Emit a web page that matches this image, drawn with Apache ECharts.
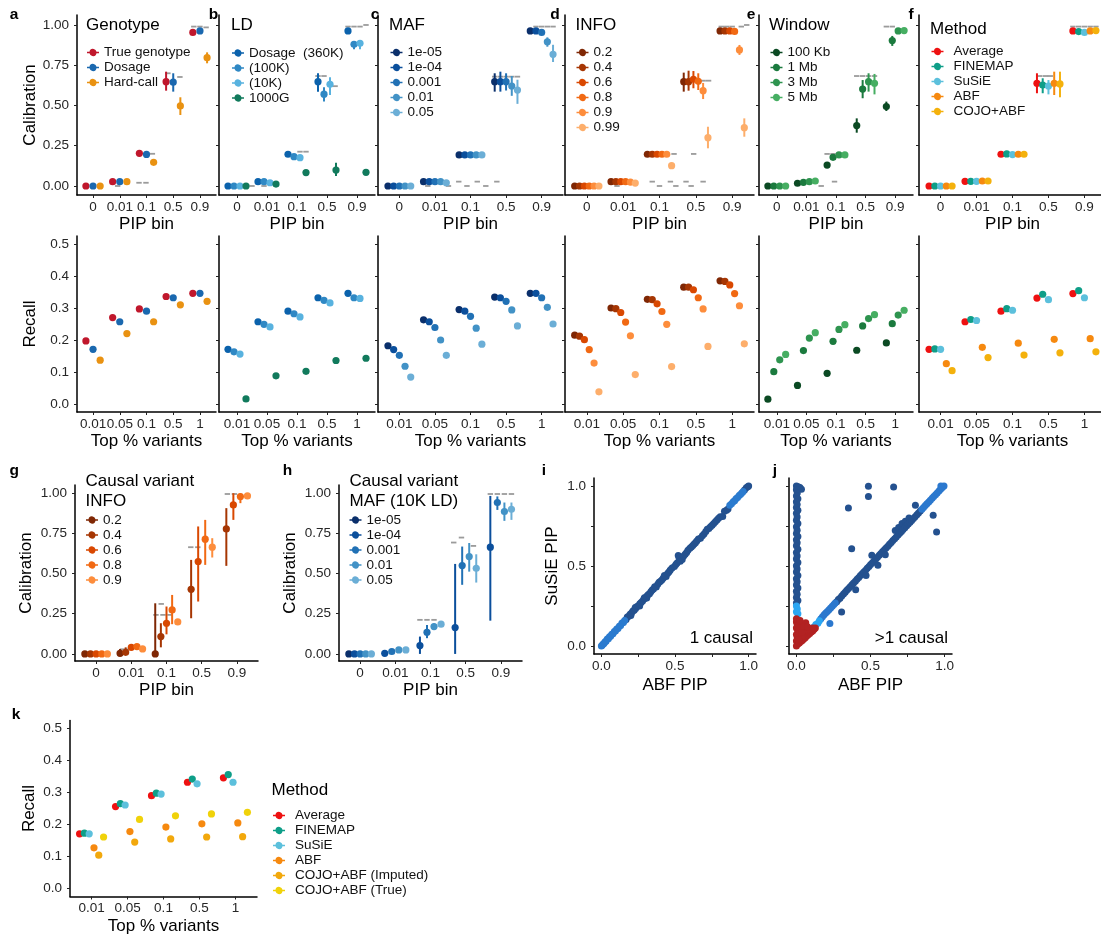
<!DOCTYPE html>
<html>
<head>
<meta charset="utf-8">
<title>Fine-mapping calibration and recall</title>
<script src="https://cdn.jsdelivr.net/npm/echarts@6/dist/echarts.min.js"></script>
<style>
  html, body { margin: 0; padding: 0; background: #fff; }
  #chart { width: 1101px; height: 939px; }
</style>
</head>
<body>
<div id="chart"></div>
<script>
// ---------- axis categories and ticks ----------
const PIP_BINS = ['0', '0.01', '0.1', '0.5', '0.9'];
const TOP_PCT = ['0.01', '0.05', '0.1', '0.5', '1'];
const CAL_TICKS = [0, 0.25, 0.5, 0.75, 1];
const REC_TICKS = [0, 0.1, 0.2, 0.3, 0.4, 0.5];
const PIP_TICKS = [0, 0.25, 0.5, 0.75, 1];
const PIP_LABEL_TICKS = [0, 0.5, 1];

// ---------- a: genotype ----------
const GENO_NAMES = ['True genotype', 'Dosage', 'Hard-call'];
const GENO_COLORS = ['#C0172C', '#1A68AF', '#E99212'];
const GENO_CALIB = [[0, 0.027, 0.203, 0.648, 0.954], [0, 0.027, 0.196, 0.645, 0.963], [0, 0.027, 0.147, 0.497, 0.797]];
const GENO_LO = [[0, 0.022, 0.195, 0.592, 0.945], [0, 0.022, 0.188, 0.586, 0.955], [0, 0.022, 0.138, 0.441, 0.762]];
const GENO_HI = [[0, 0.032, 0.211, 0.710, 0.963], [0, 0.032, 0.204, 0.700, 0.971], [0, 0.032, 0.156, 0.551, 0.830]];
const GENO_EXPECTED = [[1.92, 0.0], [2.72, 0.02], [2.98, 0.02], [3.22, 0.2], [3.8, 0.70], [4.25, 0.677], [4.77, 0.99], [5.0, 0.99], [5.23, 0.985]];
const GENO_RECALL = [[0.197, 0.270, 0.297, 0.336, 0.346], [0.171, 0.257, 0.290, 0.332, 0.346], [0.137, 0.220, 0.257, 0.310, 0.321]];

// ---------- b: LD reference ----------
const LD_NAMES = ['Dosage  (360K)', '(100K)', '(10K)', '1000G'];
const LD_COLORS = ['#0B62AC', '#2F88C4', '#58B2DF', '#117A5C'];
const LD_CALIB = [[0, 0.027, 0.197, 0.648, 0.963], [0, 0.027, 0.182, 0.570, 0.880], [0, 0.020, 0.176, 0.632, 0.886], [0, 0.012, 0.083, 0.099, 0.085]];
const LD_LO = [[0, 0.020, 0.190, 0.586, 0.955], [0, 0.020, 0.172, 0.524, 0.850], [0, 0.013, 0.166, 0.565, 0.850], [0, 0.006, 0.073, 0.062, 0.075]];
const LD_HI = [[0, 0.034, 0.204, 0.700, 0.970], [0, 0.034, 0.192, 0.613, 0.900], [0, 0.027, 0.186, 0.675, 0.905], [0, 0.018, 0.093, 0.145, 0.095]];
const LD_EXPECTED = [[1.5, 0.0], [1.9, 0.0], [3.1, 0.213], [3.3, 0.213], [3.7, 0.683], [3.9, 0.683], [4.27, 0.62], [4.7, 0.99], [4.9, 0.99], [5.1, 0.99], [5.3, 1.0]];
const LD_RECALL = [[0.171, 0.257, 0.290, 0.332, 0.346], [0.163, 0.249, 0.282, 0.324, 0.332], [0.156, 0.241, 0.272, 0.316, 0.330], [0.016, 0.088, 0.102, 0.136, 0.143]];

// ---------- c: MAF ----------
const MAF_NAMES = ['1e-05', '1e-04', '0.001', '0.01', '0.05'];
const MAF_COLORS = ['#0A2F6B', '#0B4F9C', '#2171B5', '#4292C6', '#6BAED6'];
const MAF_CALIB = [[0, 0.027, 0.193, 0.648, 0.963], [0, 0.027, 0.193, 0.648, 0.963], [0, 0.027, 0.193, 0.648, 0.954], [0, 0.027, 0.193, 0.621, 0.896], [0, 0.020, 0.193, 0.596, 0.818]];
const MAF_LO = [[0, 0.020, 0.185, 0.586, 0.955], [0, 0.020, 0.185, 0.586, 0.955], [0, 0.020, 0.185, 0.593, 0.945], [0, 0.020, 0.184, 0.560, 0.865], [0, 0.013, 0.183, 0.510, 0.770]];
const MAF_HI = [[0, 0.034, 0.200, 0.700, 0.970], [0, 0.034, 0.200, 0.710, 0.970], [0, 0.034, 0.200, 0.700, 0.962], [0, 0.034, 0.202, 0.683, 0.923], [0, 0.027, 0.203, 0.660, 0.877]];
const MAF_EXPECTED = [[1.8, 0.0], [2.38, 0.0], [2.67, 0.027], [2.9, 0.0], [3.19, 0.027], [3.43, 0.0], [3.74, 0.027], [3.68, 0.679], [3.84, 0.679], [4.0, 0.679], [4.16, 0.679], [4.32, 0.679], [4.84, 0.99], [5.0, 0.99], [5.16, 0.99], [5.32, 0.99]];
const MAF_RECALL = [[0.182, 0.263, 0.295, 0.334, 0.346], [0.170, 0.257, 0.290, 0.332, 0.346], [0.152, 0.239, 0.274, 0.321, 0.332], [0.118, 0.200, 0.237, 0.294, 0.302], [0.084, 0.152, 0.187, 0.244, 0.250]];

// ---------- d: INFO ----------
const INFO_NAMES = ['0.2', '0.4', '0.6', '0.8', '0.9', '0.99'];
const INFO_COLORS = ['#7F2704', '#A63603', '#D94801', '#F16913', '#FD8D3C', '#FDAE6B'];
const INFO_CALIB = [[0, 0.027, 0.197, 0.648, 0.963], [0, 0.027, 0.197, 0.648, 0.963], [0, 0.027, 0.197, 0.663, 0.963], [0, 0.027, 0.197, 0.650, 0.960], [0, 0.024, 0.197, 0.592, 0.845], [0, 0.018, 0.126, 0.300, 0.362]];
const INFO_LO = [[0, 0.020, 0.190, 0.586, 0.955], [0, 0.020, 0.190, 0.592, 0.955], [0, 0.020, 0.190, 0.607, 0.955], [0, 0.020, 0.190, 0.596, 0.950], [0, 0.017, 0.188, 0.540, 0.814], [0, 0.010, 0.116, 0.234, 0.306]];
const INFO_HI = [[0, 0.034, 0.204, 0.704, 0.970], [0, 0.034, 0.204, 0.716, 0.970], [0, 0.034, 0.204, 0.714, 0.970], [0, 0.034, 0.204, 0.700, 0.968], [0, 0.031, 0.206, 0.640, 0.876], [0, 0.026, 0.136, 0.368, 0.420]];
const INFO_EXPECTED = [[1.83, 0.0], [2.8, 0.027], [3.0, 0.0], [3.3, 0.027], [3.45, 0.0], [3.4, 0.199], [3.73, 0.027], [3.87, 0.0], [3.94, 0.199], [4.2, 0.027], [4.2, 0.654], [4.35, 0.654], [4.7, 0.99], [4.85, 0.99], [5.0, 0.99], [5.25, 0.99], [5.4, 1.0]];
const INFO_RECALL = [[0.215, 0.300, 0.327, 0.365, 0.385], [0.212, 0.298, 0.326, 0.365, 0.383], [0.201, 0.286, 0.313, 0.357, 0.372], [0.170, 0.256, 0.289, 0.332, 0.345], [0.128, 0.213, 0.249, 0.297, 0.307], [0.038, 0.092, 0.117, 0.180, 0.188]];

// ---------- e: window size ----------
const WIN_NAMES = ['100 Kb', '1 Mb', '3 Mb', '5 Mb'];
const WIN_COLORS = ['#0B4A23', '#1B7A3E', '#2E944F', '#46AE62'];
const WIN_CALIB = [[0, 0.017, 0.130, 0.375, 0.493], [0, 0.023, 0.178, 0.602, 0.903], [0, 0.027, 0.193, 0.648, 0.963], [0, 0.031, 0.193, 0.638, 0.965]];
const WIN_LO = [[0, 0.011, 0.120, 0.331, 0.466], [0, 0.016, 0.168, 0.545, 0.870], [0, 0.020, 0.185, 0.586, 0.955], [0, 0.024, 0.185, 0.569, 0.958]];
const WIN_HI = [[0, 0.023, 0.140, 0.420, 0.524], [0, 0.030, 0.188, 0.658, 0.932], [0, 0.034, 0.200, 0.700, 0.970], [0, 0.038, 0.200, 0.696, 0.972]];
const WIN_EXPECTED = [[2.5, 0.0], [2.95, 0.027], [2.7, 0.199], [2.9, 0.199], [3.7, 0.683], [3.9, 0.683], [4.1, 0.683], [4.3, 0.683], [4.7, 0.99], [4.9, 0.99]];
const WIN_RECALL = [[0.015, 0.058, 0.096, 0.168, 0.191], [0.101, 0.167, 0.196, 0.244, 0.251], [0.138, 0.206, 0.233, 0.267, 0.278], [0.155, 0.223, 0.248, 0.279, 0.293]];

// ---------- f: method ----------
const METHOD_NAMES = ['Average', 'FINEMAP', 'SuSiE', 'ABF', 'COJO+ABF'];
const METHOD_COLORS = ['#EE1111', '#0E9E88', '#5CC0DC', '#F6890F', '#F4B10C'];
const METHOD_CALIB = [[0, 0.029, 0.197, 0.638, 0.963], [0, 0.029, 0.199, 0.627, 0.959], [0, 0.029, 0.195, 0.621, 0.954], [0, 0.031, 0.197, 0.638, 0.963], [0, 0.031, 0.197, 0.634, 0.965]];
const METHOD_LO = [[0, 0.023, 0.190, 0.576, 0.955], [0, 0.023, 0.190, 0.576, 0.951], [0, 0.023, 0.188, 0.569, 0.946], [0, 0.025, 0.190, 0.565, 0.955], [0, 0.025, 0.190, 0.551, 0.957]];
const METHOD_HI = [[0, 0.035, 0.204, 0.700, 0.970], [0, 0.035, 0.206, 0.669, 0.967], [0, 0.035, 0.202, 0.658, 0.962], [0, 0.037, 0.204, 0.710, 0.970], [0, 0.037, 0.204, 0.710, 0.972]];
const METHOD_EXPECTED = [[3.76, 0.683], [3.92, 0.683], [4.05, 0.683], [4.68, 0.99], [4.84, 0.99], [5.0, 0.99], [5.16, 0.99], [5.32, 0.99]];
const METHOD_RECALL = [[0.171, 0.257, 0.290, 0.331, 0.345], [0.172, 0.264, 0.298, 0.343, 0.354], [0.171, 0.261, 0.293, 0.326, 0.332], [0.126, 0.177, 0.190, 0.202, 0.204], [0.104, 0.145, 0.153, 0.160, 0.163]];

// ---------- g: causal variant INFO ----------
const CINFO_NAMES = ['0.2', '0.4', '0.6', '0.8', '0.9'];
const CINFO_COLORS = ['#7F2704', '#A63603', '#D94801', '#F16913', '#FD8D3C'];
const CINFO_CALIB = [[0, 0.004, 0.0, null, null], [0, 0.010, 0.108, 0.402, 0.778], [0, 0.041, 0.191, 0.575, 0.927], [0, 0.046, 0.274, 0.714, 0.979], [0, 0.031, 0.199, 0.664, 0.983]];
const CINFO_LO = [[0, 0.0, 0.0, null, null], [0, 0.0, 0.041, 0.222, 0.548], [0, 0.030, 0.122, 0.326, 0.834], [0, 0.036, 0.185, 0.554, 0.938], [0, 0.024, 0.190, 0.600, 0.975]];
const CINFO_HI = [[0, 0.031, 0.315, null, null], [0, 0.041, 0.191, 0.585, 0.907], [0, 0.055, 0.295, 0.793, 1.0], [0, 0.056, 0.367, 0.834, 1.0], [0, 0.038, 0.210, 0.720, 0.990]];
const CINFO_EXPECTED = [[1.76, 0.029], [1.9, 0.029], [2.7, 0.243], [2.9, 0.243], [3.1, 0.243], [2.85, 0.311], [3.69, 0.664], [3.89, 0.664], [4.73, 0.995], [4.93, 0.995]];

// ---------- h: causal variant MAF (10K LD) ----------
const CMAF_NAMES = ['1e-05', '1e-04', '0.001', '0.01', '0.05'];
const CMAF_COLORS = ['#0A2F6B', '#0B4F9C', '#2171B5', '#4292C6', '#6BAED6'];
const CMAF_CALIB = [[0, null, null, null, null], [0, 0.004, 0.052, 0.164, 0.664], [0, 0.015, 0.135, 0.550, 0.942], [0, 0.025, 0.170, 0.606, 0.886], [0, 0.025, 0.185, 0.533, 0.900]];
const CMAF_LO = [[0, null, null, null, null], [0, 0.0, 0.0, 0.0, 0.207], [0, 0.010, 0.098, 0.430, 0.896], [0, 0.020, 0.149, 0.512, 0.828], [0, 0.020, 0.175, 0.444, 0.834]];
const CMAF_HI = [[0, null, null, null, null], [0, 0.010, 0.108, 0.560, 0.983], [0, 0.020, 0.180, 0.668, 0.980], [0, 0.030, 0.190, 0.690, 0.942], [0, 0.030, 0.195, 0.620, 0.942]];
const CMAF_EXPECTED = [[2.7, 0.212], [2.9, 0.212], [3.1, 0.212], [3.66, 0.693], [3.88, 0.724], [4.22, 0.672], [4.7, 0.995], [4.9, 0.995], [5.1, 0.995], [5.3, 0.995]];

// ---------- i: SuSiE vs ABF PIP, 1 causal ----------
const I_MAIN = [
  [0.168, 0.166], [0.176, 0.181], [0.186, 0.186], [0.195, 0.199], [0.200, 0.190], [0.205, 0.207], [0.214, 0.219], [0.223, 0.224],
  [0.230, 0.240], [0.233, 0.235], [0.242, 0.247], [0.252, 0.252], [0.260, 0.250], [0.261, 0.264], [0.270, 0.272], [0.280, 0.282],
  [0.289, 0.293], [0.292, 0.302], [0.298, 0.298], [0.308, 0.300], [0.308, 0.311], [0.317, 0.321], [0.327, 0.327], [0.336, 0.339],
  [0.345, 0.350], [0.354, 0.357], [0.362, 0.370], [0.373, 0.368], [0.383, 0.386], [0.392, 0.398], [0.402, 0.405], [0.412, 0.414],
  [0.421, 0.425], [0.428, 0.441], [0.440, 0.434], [0.451, 0.455], [0.460, 0.464], [0.468, 0.475], [0.480, 0.488], [0.496, 0.497],
  [0.506, 0.510], [0.514, 0.519], [0.522, 0.565], [0.528, 0.550], [0.536, 0.530], [0.549, 0.541], [0.559, 0.563], [0.569, 0.574],
  [0.579, 0.584], [0.588, 0.598], [0.601, 0.611], [0.611, 0.619], [0.621, 0.628], [0.630, 0.637], [0.639, 0.646], [0.648, 0.657],
  [0.659, 0.668], [0.673, 0.674], [0.686, 0.689], [0.697, 0.700], [0.709, 0.716], [0.719, 0.729], [0.730, 0.735], [0.741, 0.745],
  [0.752, 0.755], [0.763, 0.766], [0.774, 0.777], [0.785, 0.788], [0.796, 0.798], [0.807, 0.808], [0.824, 0.810], [0.836, 0.842],
  [0.850, 0.848], [0.860, 0.857], [0.972, 0.975], [0.984, 0.989], [0.994, 0.996], [1.000, 1.000]
];
const I_EDGE = [
  [0.000, 0.000], [0.006, 0.004], [0.012, 0.013], [0.018, 0.016], [0.025, 0.027], [0.032, 0.030], [0.040, 0.043], [0.048, 0.046],
  [0.055, 0.058], [0.063, 0.061], [0.071, 0.074], [0.079, 0.077], [0.088, 0.090], [0.096, 0.094], [0.104, 0.107], [0.113, 0.110],
  [0.122, 0.124], [0.131, 0.128], [0.140, 0.143], [0.150, 0.147], [0.158, 0.160],
  [0.872, 0.880], [0.884, 0.889], [0.895, 0.902], [0.905, 0.908], [0.914, 0.921], [0.925, 0.928], [0.936, 0.941], [0.946, 0.949],
  [0.955, 0.958], [0.963, 0.966]
];

// ---------- j: SuSiE vs ABF PIP, >1 causal ----------
const J_MAIN = [
  [0.000, 1.000], [0.012, 0.996], [0.024, 0.990], [0.034, 0.980], [0.000, 0.976], [0.006, 0.957], [0.000, 0.938], [0.010, 0.921],
  [0.000, 0.902], [0.005, 0.884], [0.000, 0.866], [0.010, 0.848], [0.000, 0.829], [0.005, 0.806], [0.000, 0.786], [0.010, 0.766],
  [0.000, 0.745], [0.005, 0.724], [0.000, 0.703], [0.010, 0.684], [0.000, 0.664], [0.005, 0.645], [0.000, 0.626], [0.010, 0.604],
  [0.000, 0.584], [0.005, 0.563], [0.000, 0.543], [0.010, 0.522], [0.000, 0.502], [0.005, 0.481], [0.000, 0.462], [0.010, 0.441],
  [0.000, 0.421], [0.005, 0.401], [0.000, 0.381], [0.010, 0.362], [0.000, 0.342], [0.005, 0.323], [0.000, 0.303], [0.010, 0.285],
  [0.000, 0.268],
  [0.272, 0.276], [0.283, 0.290], [0.294, 0.298], [0.305, 0.213], [0.306, 0.312], [0.318, 0.325], [0.329, 0.336], [0.340, 0.348],
  [0.352, 0.360], [0.351, 0.863], [0.363, 0.371], [0.373, 0.608], [0.375, 0.383], [0.386, 0.394], [0.398, 0.405], [0.400, 0.352],
  [0.409, 0.417], [0.421, 0.428], [0.432, 0.440], [0.444, 0.452], [0.455, 0.463], [0.467, 0.474], [0.470, 0.440], [0.478, 0.486],
  [0.486, 0.998], [0.486, 0.935], [0.490, 0.497], [0.501, 0.509], [0.509, 0.567], [0.513, 0.520], [0.524, 0.532], [0.536, 0.544],
  [0.547, 0.555], [0.550, 0.505], [0.559, 0.567], [0.570, 0.578], [0.582, 0.590], [0.594, 0.601], [0.600, 0.570], [0.605, 0.613],
  [0.617, 0.624], [0.628, 0.636], [0.640, 0.647], [0.651, 0.659], [0.656, 0.994], [0.663, 0.670], [0.667, 0.722], [0.674, 0.682],
  [0.686, 0.693], [0.690, 0.740], [0.697, 0.705], [0.709, 0.716], [0.713, 0.765], [0.720, 0.728], [0.732, 0.739], [0.735, 0.780],
  [0.744, 0.751], [0.755, 0.762], [0.760, 0.800], [0.767, 0.774], [0.778, 0.785], [0.790, 0.797], [0.801, 0.808], [0.803, 0.879],
  [0.813, 0.820], [0.824, 0.831], [0.836, 0.843], [0.923, 0.817], [0.946, 0.713]
];
const J_MID = [
  [0.165, 0.170], [0.176, 0.183], [0.187, 0.195], [0.198, 0.206], [0.209, 0.216], [0.220, 0.227], [0.226, 0.140], [0.231, 0.238],
  [0.242, 0.249], [0.253, 0.260], [0.262, 0.268],
  [0.847, 0.855], [0.858, 0.866], [0.870, 0.878], [0.881, 0.889], [0.893, 0.900], [0.904, 0.911], [0.916, 0.923], [0.927, 0.934],
  [0.939, 0.946], [0.950, 0.957], [0.962, 0.968], [0.973, 0.980], [0.985, 0.991], [0.996, 1.000], [0.975, 1.000]
];
const J_LIGHT = [[0.000, 0.250], [0.006, 0.232], [0.000, 0.214], [0.010, 0.202], [0.118, 0.118], [0.131, 0.135], [0.145, 0.142], [0.155, 0.158]];
const J_LOW = [
  [0.000, 0.170], [0.000, 0.150], [0.006, 0.132], [0.000, 0.112], [0.010, 0.092], [0.000, 0.072], [0.006, 0.052], [0.000, 0.032],
  [0.010, 0.012], [0.000, 0.000], [0.020, 0.018], [0.030, 0.028], [0.040, 0.034], [0.050, 0.044], [0.060, 0.052], [0.070, 0.062],
  [0.080, 0.070], [0.090, 0.078], [0.100, 0.088], [0.110, 0.094], [0.120, 0.104], [0.128, 0.112], [0.030, 0.122], [0.020, 0.142],
  [0.040, 0.100], [0.050, 0.078], [0.060, 0.110], [0.063, 0.146], [0.070, 0.098], [0.080, 0.094], [0.090, 0.100], [0.100, 0.106],
  [0.030, 0.060], [0.020, 0.080], [0.040, 0.062], [0.015, 0.115], [0.050, 0.120], [0.025, 0.160], [0.110, 0.112], [0.015, 0.040],
  [0.035, 0.085], [0.075, 0.120]
];

// ---------- k: recall by method ----------
const K_NAMES = ['Average', 'FINEMAP', 'SuSiE', 'ABF', 'COJO+ABF (Imputed)', 'COJO+ABF (True)'];
const K_COLORS = ['#EE1111', '#0E9E88', '#5CC0DC', '#F6890F', '#F2A80C', '#F0D20A'];
const K_RECALL = [[0.171, 0.256, 0.290, 0.332, 0.346], [0.173, 0.265, 0.298, 0.342, 0.356], [0.171, 0.261, 0.295, 0.327, 0.332], [0.127, 0.178, 0.192, 0.202, 0.205], [0.104, 0.145, 0.155, 0.161, 0.162], [0.161, 0.216, 0.227, 0.233, 0.238]];

// ================= drawing =================
const FONT = "'Liberation Sans', Arial, Helvetica, sans-serif";
const TICK_TEXT = '#262626';
const KEY_ICON = 'path://M0,3.2L2.49,3.2A3.6,3.6,0,0,1,9.51,3.2L12,3.2L12,4.8L9.51,4.8A3.6,3.6,0,0,1,2.49,4.8L0,4.8Z';

const grids = [], xAxes = [], yAxes = [], series = [], legends = [], texts = [];

function addGrid(left, top, width, height) {
  grids.push({ left, top, width, height, containLabel: false, outerBoundsMode: 'none' });
  return grids.length - 1;
}

function axisBase(gridIndex) {
  return {
    type: 'value', gridIndex,
    splitLine: { show: false },
    axisLine: { show: true, onZero: false, lineStyle: { color: '#000', width: 1.5 } },
    axisTick: { show: true, length: 3, lineStyle: { color: '#222', width: 1 } },
    axisLabel: { fontSize: 13.5, color: TICK_TEXT, fontFamily: FONT },
    nameLocation: 'middle',
    nameTextStyle: { fontSize: 17, color: '#000', fontFamily: FONT }
  };
}

// x axis for dodged categories: category k sits at k (1..5)
function categoryX(gi, labels, name) {
  const a = axisBase(gi);
  const pos = labels.map((_, i) => i + 1);
  a.min = 0.4; a.max = 5.6;
  a.axisTick.customValues = pos;
  a.axisLabel.customValues = pos;
  a.axisLabel.formatter = v => labels[Math.round(v) - 1];
  a.axisLabel.margin = 5;
  a.name = name; a.nameGap = 21;
  return a;
}

function valueAxis(gi, min, max, ticks, labelTicks, showLabels, digits, name, gap) {
  const a = axisBase(gi);
  a.min = min; a.max = max;
  a.axisTick.customValues = ticks;
  a.axisLabel.customValues = labelTicks;
  a.axisLabel.show = showLabels;
  a.axisLabel.formatter = v => Number(v).toFixed(digits);
  a.axisLabel.margin = 8;
  if (name) { a.name = name; a.nameGap = gap; }
  return a;
}

// ggplot-style dodge: groups present in a bin share a 0.8-wide slot
function dodge(sets) {
  const out = sets.map(() => [null, null, null, null, null]);
  for (let b = 0; b < 5; b++) {
    const present = [];
    sets.forEach((s, i) => { if (s[b] !== null && s[b] !== undefined) present.push(i); });
    const m = present.length, w = 0.8 / m;
    present.forEach((s, r) => { out[s][b] = b + 1 + (r - (m - 1) / 2) * w; });
  }
  return out;
}

function pointRange(name, color, gi, xs, vals, lo, hi) {
  const data = [];
  for (let b = 0; b < 5; b++) if (vals[b] !== null) data.push([xs[b], vals[b], lo[b], hi[b]]);
  return {
    type: 'custom', name, xAxisIndex: gi, yAxisIndex: gi, z: 3,
    itemStyle: { color }, encode: { x: 0, y: 1 }, data,
    renderItem(params, api) {
      const x = api.value(0);
      const c = api.coord([x, api.value(1)]);
      const l = api.coord([x, api.value(2)]);
      const h = api.coord([x, api.value(3)]);
      return {
        type: 'group', children: [
          { type: 'line', shape: { x1: c[0], y1: l[1], x2: c[0], y2: h[1] }, style: { stroke: color, lineWidth: 2 } },
          { type: 'circle', shape: { cx: c[0], cy: c[1], r: 3.6 }, style: { fill: color } }
        ]
      };
    }
  };
}

function expectedDashes(gi, pts) {
  return {
    type: 'custom', xAxisIndex: gi, yAxisIndex: gi, z: 2, silent: true,
    encode: { x: 0, y: 1 }, data: pts,
    renderItem(params, api) {
      const c = api.coord([api.value(0), api.value(1)]);
      return { type: 'line', shape: { x1: c[0] - 2.7, y1: c[1], x2: c[0] + 2.7, y2: c[1] }, style: { stroke: '#9b9b9b', lineWidth: 1.8 } };
    }
  };
}

function dots(name, color, gi, data, size) {
  return {
    type: 'scatter', name, xAxisIndex: gi, yAxisIndex: gi, z: 3,
    symbol: 'circle', symbolSize: size, itemStyle: { color, opacity: 1 },
    emphasis: { disabled: true }, data
  };
}

function recallDots(names, colors, gi, recall) {
  const xs = dodge(recall);
  recall.forEach((vals, s) => {
    series.push(dots(names[s], colors[s], gi, vals.map((v, b) => [xs[s][b], v]), 7.2));
  });
}

function calibration(names, colors, gi, calib, lo, hi, expected) {
  series.push(expectedDashes(gi, expected));
  const xs = dodge(calib);
  calib.forEach((vals, s) => series.push(pointRange(names[s], colors[s], gi, xs[s], vals, lo[s], hi[s])));
}

function legend(names, left, top, wide) {
  legends.push({
    data: names, left, top, orient: 'vertical', padding: 0, itemGap: 0,
    itemWidth: 12, itemHeight: 7.2, icon: KEY_ICON, selectedMode: false,
    textStyle: { fontSize: 13.5, lineHeight: 15, color: '#111', fontFamily: FONT, padding: wide ? [0, 0, 0, 5] : 0 }
  });
}

function label(str, x, y, size, opts) {
  const o = opts || {};
  const align = o.align || 'left';
  texts.push({
    type: 'text', x, y, silent: true,
    style: {
      text: str, font: (o.bold ? 'bold ' : '') + size + 'px ' + FONT, fill: '#000',
      align, textAlign: align, verticalAlign: 'middle', textVerticalAlign: 'middle'
    }
  });
}

// ---------- rows 1 and 2: calibration over recall ----------
const COLUMNS = [[77, 139], [219, 156], [378, 185], [565, 189], [759, 154], [919, 187]];
const TOP_PANELS = [
  { names: GENO_NAMES, colors: GENO_COLORS, calib: GENO_CALIB, lo: GENO_LO, hi: GENO_HI, exp: GENO_EXPECTED, recall: GENO_RECALL, title: 'Genotype', tag: 'a', tagX: 14, titleXY: [86, 25], legXY: [87, 45] },
  { names: LD_NAMES, colors: LD_COLORS, calib: LD_CALIB, lo: LD_LO, hi: LD_HI, exp: LD_EXPECTED, recall: LD_RECALL, title: 'LD', tag: 'b', tagX: 213.5, titleXY: [231, 25], legXY: [232, 45.5] },
  { names: MAF_NAMES, colors: MAF_COLORS, calib: MAF_CALIB, lo: MAF_LO, hi: MAF_HI, exp: MAF_EXPECTED, recall: MAF_RECALL, title: 'MAF', tag: 'c', tagX: 375, titleXY: [389, 25], legXY: [390.5, 45] },
  { names: INFO_NAMES, colors: INFO_COLORS, calib: INFO_CALIB, lo: INFO_LO, hi: INFO_HI, exp: INFO_EXPECTED, recall: INFO_RECALL, title: 'INFO', tag: 'd', tagX: 555, titleXY: [575.5, 25], legXY: [576.5, 45] },
  { names: WIN_NAMES, colors: WIN_COLORS, calib: WIN_CALIB, lo: WIN_LO, hi: WIN_HI, exp: WIN_EXPECTED, recall: WIN_RECALL, title: 'Window', tag: 'e', tagX: 751, titleXY: [769, 25], legXY: [770.5, 45] },
  { names: METHOD_NAMES, colors: METHOD_COLORS, calib: METHOD_CALIB, lo: METHOD_LO, hi: METHOD_HI, exp: METHOD_EXPECTED, recall: METHOD_RECALL, title: 'Method', tag: 'f', tagX: 911, titleXY: [930, 29], legXY: [931.5, 44], wide: true }
];

TOP_PANELS.forEach((p, c) => {
  const [left, width] = COLUMNS[c];
  const first = c === 0;
  const gTop = addGrid(left, 15, width, 180);
  xAxes.push(categoryX(gTop, PIP_BINS, 'PIP bin'));
  yAxes.push(valueAxis(gTop, -0.056, 1.062, CAL_TICKS, CAL_TICKS, first, 2, first ? 'Calibration' : '', 38.5));
  calibration(p.names, p.colors, gTop, p.calib, p.lo, p.hi, p.exp);

  const gBot = addGrid(left, 236, width, 176);
  xAxes.push(categoryX(gBot, TOP_PCT, 'Top % variants'));
  yAxes.push(valueAxis(gBot, -0.025, 0.525, REC_TICKS, REC_TICKS, first, 1, first ? 'Recall' : '', 38.5));
  recallDots(p.names, p.colors, gBot, p.recall);

  legend(p.names, p.legXY[0], p.legXY[1], p.wide);
  label(p.title, p.titleXY[0], p.titleXY[1], 17);
  label(p.tag, p.tagX, 15, 15.5, { bold: true, align: 'center' });
});

// ---------- row 3: causal-variant calibration ----------
const gG = addGrid(75, 485, 183, 176);
xAxes.push(categoryX(gG, PIP_BINS, 'PIP bin'));
yAxes.push(valueAxis(gG, -0.044, 1.051, CAL_TICKS, CAL_TICKS, true, 2, 'Calibration', 40));
calibration(CINFO_NAMES, CINFO_COLORS, gG, CINFO_CALIB, CINFO_LO, CINFO_HI, CINFO_EXPECTED);
legend(CINFO_NAMES, 86, 512.5);
label('Causal variant', 85.5, 481.7, 17);
label('INFO', 85.5, 501.7, 17);
label('g', 14.3, 471, 15.5, { bold: true, align: 'center' });

const gH = addGrid(339, 485, 183, 176);
xAxes.push(categoryX(gH, PIP_BINS, 'PIP bin'));
yAxes.push(valueAxis(gH, -0.044, 1.051, CAL_TICKS, CAL_TICKS, true, 2, 'Calibration', 40));
calibration(CMAF_NAMES, CMAF_COLORS, gH, CMAF_CALIB, CMAF_LO, CMAF_HI, CMAF_EXPECTED);
legend(CMAF_NAMES, 349.5, 512.5);
label('Causal variant', 349.5, 481.7, 17);
label('MAF (10K LD)', 349.5, 501.7, 17);
label('h', 287.5, 471, 15.5, { bold: true, align: 'center' });

// ---------- row 3: PIP scatter ----------
const gI = addGrid(594, 478, 162, 176);
xAxes.push(valueAxis(gI, -0.05, 1.05, PIP_TICKS, PIP_LABEL_TICKS, true, 1, 'ABF PIP', 23));
xAxes[gI].axisLabel.margin = 5;
yAxes.push(valueAxis(gI, -0.05, 1.05, PIP_TICKS, PIP_LABEL_TICKS, true, 1, 'SuSiE PIP', 33));
series.push(dots('1 causal', '#24518F', gI, I_MAIN, 7));
series.push(dots('1 causal, low PIP', '#2B7BCF', gI, I_EDGE, 7));
label('1 causal', 753, 638.5, 17, { align: 'right' });
label('i', 544, 471, 15.5, { bold: true, align: 'center' });

const gJ = addGrid(789, 478, 163, 176);
xAxes.push(valueAxis(gJ, -0.05, 1.05, PIP_TICKS, PIP_LABEL_TICKS, true, 1, 'ABF PIP', 23));
xAxes[gJ].axisLabel.margin = 5;
yAxes.push(valueAxis(gJ, -0.05, 1.05, PIP_TICKS, PIP_LABEL_TICKS, false, 1, '', 0));
series.push(dots('>1 causal', '#24518F', gJ, J_MAIN, 7));
series.push(dots('>1 causal, mid', '#2B78CE', gJ, J_MID, 7));
series.push(dots('>1 causal, light', '#2BA6F2', gJ, J_LIGHT, 7));
series.push(dots('>1 causal, low', '#B22222', gJ, J_LOW, 7));
label('>1 causal', 948, 638.5, 17, { align: 'right' });
label('j', 775, 471, 15.5, { bold: true, align: 'center' });

// ---------- row 4: recall by method ----------
const gK = addGrid(70, 720.5, 187, 176);
xAxes.push(categoryX(gK, TOP_PCT, 'Top % variants'));
yAxes.push(valueAxis(gK, -0.025, 0.525, REC_TICKS, REC_TICKS, true, 1, 'Recall', 32));
recallDots(K_NAMES, K_COLORS, gK, K_RECALL);
legend(K_NAMES, 273, 808, true);
label('Method', 271.5, 790.7, 17);
label('k', 16, 715, 15.5, { bold: true, align: 'center' });

const chart = echarts.init(document.getElementById('chart'), null, { renderer: 'canvas' });
chart.setOption({
  animation: false,
  backgroundColor: '#fff',
  textStyle: { fontFamily: FONT },
  grid: grids, xAxis: xAxes, yAxis: yAxes,
  legend: legends, series,
  graphic: { elements: texts }
});
</script>
</body>
</html>
